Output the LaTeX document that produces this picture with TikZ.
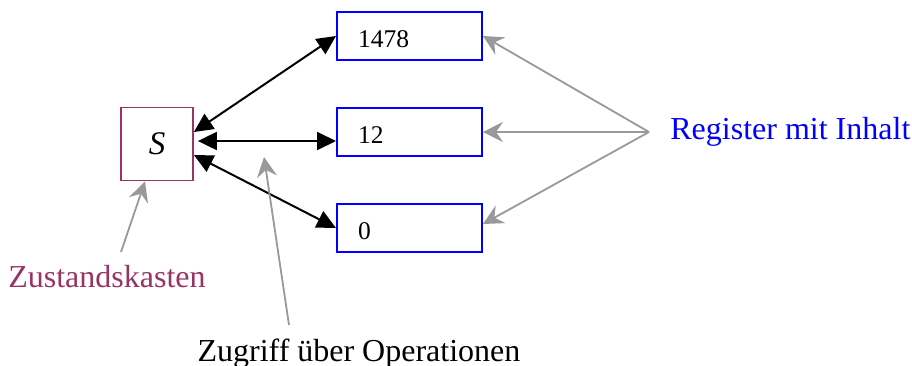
\documentclass[tikz,border=0pt]{standalone}
\usepackage{fontspec}
\setmainfont{Liberation Serif}
\usetikzlibrary{arrows.meta}
\definecolor{zustand}{RGB}{153,51,102}
\definecolor{hintgray}{RGB}{153,153,153}

\begin{document}
\begin{tikzpicture}[x=0.5pt, y=-0.5pt,
    reg/.style={draw=blue, line width=1pt, minimum height=24.25pt, inner xsep=10.5pt, text width=51.5pt, text height=11pt, text depth=0pt, align=left, font=\fontsize{12.75}{14}\selectfont},
    zbox/.style={draw=zustand, line width=0.9pt, minimum width=36pt, minimum height=36.5pt, font=\fontsize{16.5}{18}\selectfont},
    access/.style={{Triangle[length=9.5pt,width=9pt]}-{Triangle[length=9.5pt,width=9pt]}, line width=1pt},
    hint/.style={-{Stealth[length=10pt,width=10pt,inset=3.5pt]}, draw=hintgray, line width=0.9pt},
    lbl/.style={font=\fontsize{16}{18}\selectfont, inner sep=0pt}]
    \useasboundingbox (0,0) rectangle (912,365);
    \node[zbox] (s) at (157,144) {\textit{S}};
    \node[reg] (r1) at (409.5,36) {1478};
    \node[reg] (r2) at (409.5,132) {12};
    \node[reg] (r3) at (409.5,228) {0};
    \node[lbl, text=blue, anchor=base west] (regtxt) at (670,139) {Register mit Inhalt};
    \node[lbl, text=zustand, anchor=base] (zktxt) at (107,287) {Zustandskasten};
    \node[lbl, anchor=base] (zgtxt) at (359,361) {Zugriff über Operationen};
    % Zugriffe
    \draw[access] ([yshift=6pt]s.east) -- (r1.west);
    \draw[access] ([xshift=2pt,yshift=1.5pt]s.east) -- ([yshift=-4.5pt]r2.west);
    \draw[access] ([yshift=-5.5pt]s.east) -- (r3.west);
    % Hinweise
    \coordinate (fan) at (649,132);
    \draw[hint] (fan) -- (r1.east);
    \draw[hint] (fan) -- (r2.east);
    \draw[hint] (fan) -- ([yshift=2pt]r3.east);
    \coordinate (zkfoot) at (121,252);
    \draw[hint] (zkfoot) -- ([xshift=-6pt]s.south);
    \coordinate (zgfoot) at (289,325);
    \coordinate (zgtip) at (264,157);
    \draw[hint] (zgfoot) -- (zgtip);
\end{tikzpicture}
\end{document}
